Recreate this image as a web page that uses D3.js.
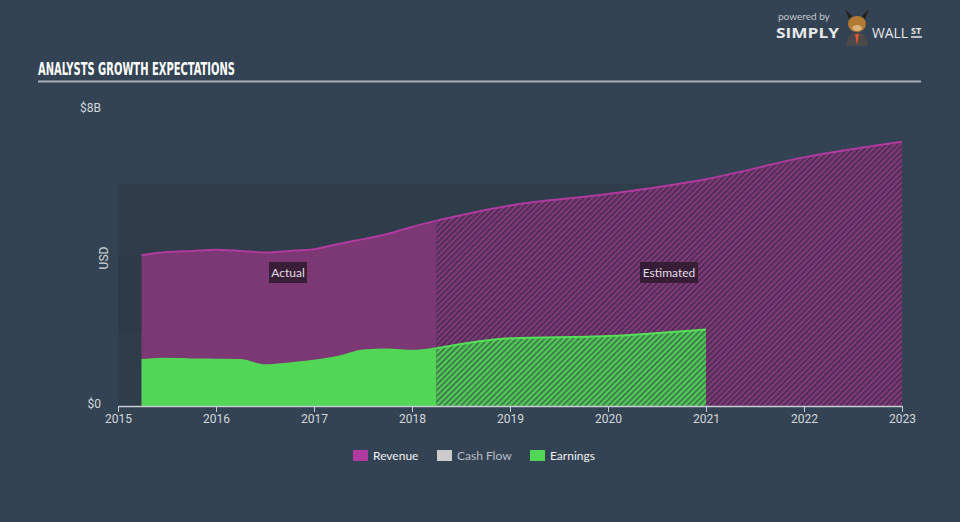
<!DOCTYPE html>
<html>
<head>
<meta charset="utf-8">
<script src="https://cdn.jsdelivr.net/npm/d3@7"></script>
<style>
  body { margin: 0; background: #344353; }
  svg { display: block; }
</style>
</head>
<body>
<svg id="chart" width="960" height="522"></svg>
<script>
// values in billions USD, x as decimal year
const revenueActualYears = [2015.24, 2015.5, 2015.75, 2016.0, 2016.25, 2016.5, 2016.75, 2017.0, 2017.25, 2017.5, 2017.75, 2018.0, 2018.25]
const revenueActual = [4.08, 4.16, 4.19, 4.22, 4.19, 4.15, 4.19, 4.24, 4.38, 4.51, 4.65, 4.84, 5.01]
const revenueEstYears = [2018.25, 2019, 2020, 2021, 2022, 2023]
const revenueEst = [5.01, 5.42, 5.73, 6.13, 6.72, 7.14]

const earningsActualYears = [2015.24, 2015.5, 2015.75, 2016.0, 2016.25, 2016.5, 2016.75, 2017.0, 2017.25, 2017.5, 2017.75, 2018.0, 2018.25]
const earningsActual = [1.24, 1.28, 1.26, 1.25, 1.24, 1.10, 1.15, 1.22, 1.33, 1.50, 1.53, 1.49, 1.56]
const earningsEstYears = [2018.25, 2019, 2020, 2021]
const earningsEst = [1.56, 1.83, 1.89, 2.07]

const xTicks = [2015, 2016, 2017, 2018, 2019, 2020, 2021, 2022, 2023]
const bands = [0, 2, 4]
const legendItems = ["Revenue", "Cash Flow", "Earnings"]
const legendColors = ["#b03a9e", "#cccccc", "#52d655"]

const svg = d3.select('#chart')

var x = d3.scaleLinear().domain([2015, 2023]).range([118, 902])
var y = d3.scaleLinear().domain([0, 8]).range([406, 110])

// hatch patterns
var defs = svg.append('defs')
function hatch(id, base, stripe) {
    var p = defs.append('pattern')
        .attr('id', id)
        .attr('patternUnits', 'userSpaceOnUse')
        .attr('width', 4).attr('height', 4)
        .attr('patternTransform', 'rotate(45)')
    p.append('rect').attr('width', 4).attr('height', 4).attr('fill', base)
    p.append('rect').attr('width', 1.5).attr('height', 4).attr('fill', stripe)
}
hatch('hatchRev', '#7f3a79', '#46294c')
hatch('hatchEarn', '#52c957', '#386d47')

// plot bands
svg.selectAll('rect.band')
    .data(bands)
    .enter()
    .append('rect')
    .attr('class', 'band')
    .attr('x', x(2015))
    .attr('width', x(2023) - x(2015))
    .attr('y', d => y(d + 2))
    .attr('height', d => y(d) - y(d + 2))
    .attr('fill', (d, i) => i % 2 ? '#2d3b49' : '#2f3d4b')

// title
svg.append('text')
    .attr('x', 38).attr('y', 75)
    .attr('textLength', 197).attr('lengthAdjust', 'spacingAndGlyphs')
    .style('font-family', '"Liberation Sans Narrow", "DejaVu Sans Condensed", sans-serif')
    .style('font-weight', 'bold')
    .style('font-size', '17px')
    .attr('fill', '#ffffff')
    .text('ANALYSTS GROWTH EXPECTATIONS')
svg.append('line')
    .attr('x1', 38).attr('x2', 921).attr('y1', 81.5).attr('y2', 81.5)
    .attr('stroke', '#a9b0b8').attr('stroke-width', 2)

// logo
svg.append('text').attr('x', 778).attr('y', 20)
    .style('font-family', 'Lato, sans-serif').style('font-size', '10px')
    .attr('fill', '#c3c7cc').text('powered by')
svg.append('text').attr('x', 776).attr('y', 38)
    .attr('textLength', 63).attr('lengthAdjust', 'spacingAndGlyphs')
    .style('font-family', '"Open Sans", sans-serif').style('font-size', '14px').style('font-weight', 'bold')
    .attr('fill', '#e6e8ea').text('SIMPLY')
svg.append('path').attr('d', 'M846,46 Q847,33 857,32 Q867,33 868,46 Z').attr('fill', '#4a4a4a')
svg.append('path').attr('d', 'M855,34 L859,34 L857,45 Z').attr('fill', '#e2542c')
svg.append('ellipse').attr('cx', 857).attr('cy', 24).attr('rx', 9).attr('ry', 8).attr('fill', '#b07a33')
svg.append('ellipse').attr('cx', 857).attr('cy', 28).attr('rx', 5).attr('ry', 3).attr('fill', '#d9b27a')
svg.append('path').attr('d', 'M849,19 L845,9 L852,16 Z M865,19 L869,9 L862,16 Z').attr('fill', '#2a2018')
svg.append('text').attr('x', 872).attr('y', 38)
    .attr('textLength', 36).attr('lengthAdjust', 'spacingAndGlyphs')
    .style('font-family', '"Open Sans", sans-serif').style('font-size', '14px')
    .attr('fill', '#e6e8ea').text('WALL')
svg.append('text').attr('x', 911).attr('y', 34)
    .style('font-family', '"Open Sans", sans-serif').style('font-size', '9px').style('font-weight', 'bold')
    .attr('fill', '#e6e8ea').text('ST')
svg.append('line').attr('x1', 911).attr('x2', 922).attr('y1', 37).attr('y2', 37)
    .attr('stroke', '#e6e8ea').attr('stroke-width', 1.5)

// areas
var area = d3.area()
    .x(d => x(d[0]))
    .y0(y(0))
    .y1(d => y(d[1]))
    .curve(d3.curveMonotoneX)
var line = d3.line()
    .x(d => x(d[0]))
    .y(d => y(d[1]))
    .curve(d3.curveMonotoneX)

const revA = d3.zip(revenueActualYears, revenueActual)
const revE = d3.zip(revenueEstYears, revenueEst)
const earnA = d3.zip(earningsActualYears, earningsActual)
const earnE = d3.zip(earningsEstYears, earningsEst)

svg.append('path').datum(revA).attr('d', area).attr('fill', '#7b3875')
svg.append('path').datum(revE).attr('d', area).attr('fill', 'url(#hatchRev)')
svg.append('path').datum(revA).attr('d', line).attr('fill', 'none').attr('stroke', '#b03a9e').attr('stroke-width', 2)
svg.append('path').datum(revE).attr('d', line).attr('fill', 'none').attr('stroke', '#b03a9e').attr('stroke-width', 2)

svg.append('path').datum(earnA).attr('d', area).attr('fill', '#52d655')
svg.append('path').datum(earnE).attr('d', area).attr('fill', 'url(#hatchEarn)')
svg.append('path').datum(earnA).attr('d', line).attr('fill', 'none').attr('stroke', '#52d655').attr('stroke-width', 2)
svg.append('path').datum(earnE).attr('d', line).attr('fill', 'none').attr('stroke', '#55e058').attr('stroke-width', 2)

// x axis
var xAxis = d3.axisBottom(x)
    .tickValues(xTicks)
    .tickFormat(d3.format('d'))
    .tickSize(6)
    .tickSizeOuter(0)
var gx = svg.append('g')
    .attr('transform', 'translate(0,' + y(0) + ')')
    .call(xAxis)
gx.select('.domain').attr('stroke', '#c5ccd3').attr('stroke-width', 1.5)
gx.selectAll('.tick line').attr('stroke', '#c5ccd3')
gx.selectAll('.tick text')
    .attr('y', 8)
    .style('font-family', 'Roboto, sans-serif').style('font-size', '12px')
    .attr('fill', '#d3d7dc')

// y labels
svg.append('text').attr('x', 101).attr('y', y(8) + 2).attr('text-anchor', 'end')
    .style('font-family', 'Roboto, sans-serif').style('font-size', '12px')
    .attr('fill', '#d3d7dc').text('$8B')
svg.append('text').attr('x', 101).attr('y', y(0) + 2).attr('text-anchor', 'end')
    .style('font-family', 'Roboto, sans-serif').style('font-size', '12px')
    .attr('fill', '#d3d7dc').text('$0')
svg.append('text')
    .attr('transform', 'translate(108,' + y(4) + ') rotate(-90)')
    .attr('text-anchor', 'middle')
    .style('font-family', 'Roboto, sans-serif').style('font-size', '12px')
    .attr('fill', '#d3d7dc').text('USD')

// region labels
function tag(cx, label, w) {
    svg.append('rect').attr('x', cx - w / 2).attr('y', 262).attr('width', w).attr('height', 21)
        .attr('fill', '#2e1a2e').attr('opacity', 0.85)
    svg.append('text').attr('x', cx).attr('y', 277).attr('text-anchor', 'middle')
        .style('font-family', 'Lato, sans-serif').style('font-size', '12px')
        .attr('fill', '#e3dde3').text(label)
}
tag(288, 'Actual', 38)
tag(669, 'Estimated', 58)

// legend
var legendX = [353, 437, 530]
var lg = svg.selectAll('g.legend')
    .data(legendItems)
    .enter()
    .append('g')
    .attr('class', 'legend')
    .attr('transform', (d, i) => 'translate(' + legendX[i] + ',450)')
lg.append('rect').attr('width', 15).attr('height', 11).attr('fill', (d, i) => legendColors[i])
lg.append('text').attr('x', 20).attr('y', 10)
    .style('font-family', 'Lato, sans-serif').style('font-size', '12px')
    .attr('fill', (d, i) => i === 1 ? '#b9bfc6' : '#eef0f2')
    .text(d => d)
</script>
</body>
</html>
